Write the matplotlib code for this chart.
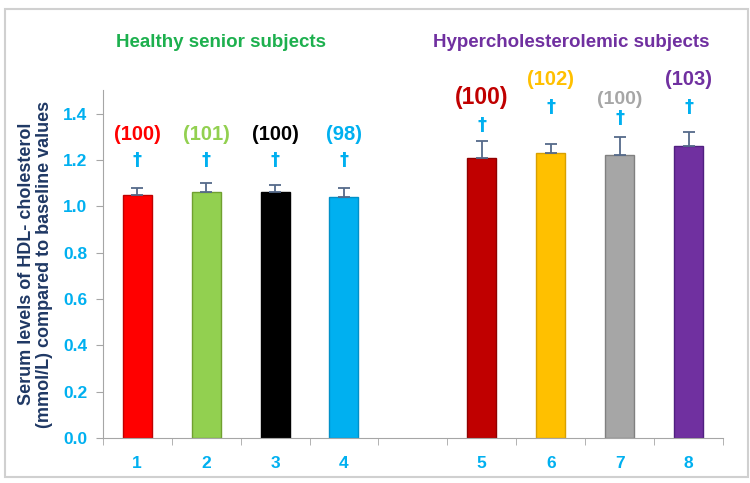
import matplotlib
matplotlib.use("Agg")
import matplotlib.pyplot as plt
from matplotlib.patches import Rectangle

# data
labels   = ["1", "2", "3", "4", "5", "6", "7", "8"]
means    = [1.05, 1.06, 1.06, 1.04, 1.21, 1.23, 1.22, 1.26]
errs     = [0.03, 0.04, 0.03, 0.04, 0.07, 0.04, 0.08, 0.06]
pct      = ["(100)", "(101)", "(100)", "(98)", "(100)", "(102)", "(100)", "(103)"]
colors   = ["#FF0000", "#92D050", "#000000", "#00B0F0",
            "#C00000", "#FFC000", "#A6A6A6", "#7030A0"]
# annotation heights (dagger, percentage label) in data units
dag_y    = [1.20, 1.20, 1.20, 1.20, 1.35, 1.43, 1.38, 1.43]
pct_y    = [1.31, 1.31, 1.31, 1.31, 1.47, 1.545, 1.46, 1.545]
pct_fs   = [14.5, 14.5, 14.5, 14.5, 16.5, 14.5, 14, 14.5]

BLUE, NAVY, GREEN, PURPLE = "#00B0F0", "#1F3864", "#1DB04E", "#7030A0"

xpos = [0, 1, 2, 3, 5, 6, 7, 8]   # slot 4 left empty between the groups

fig = plt.figure(figsize=(7.5, 4.83), dpi=100)
ax = fig.add_axes([0.137, 0.093, 0.827, 0.72])

edges = ["#C00000", "#70A030", "#000000", "#0090C8",
         "#900000", "#D8A000", "#808080", "#502080"]
ax.bar(xpos, means, width=0.42, color=colors, edgecolor=edges, linewidth=1, zorder=2)
ax.errorbar(xpos, means, yerr=[[0] * len(errs), errs], fmt="none",
            ecolor="#556A8A", elinewidth=1.3, capsize=4, capthick=1.3, zorder=3)

for x, dy, py, t, c, fs in zip(xpos, dag_y, pct_y, pct, colors, pct_fs):
    ax.text(x, dy, "\u2020", ha="center", va="center", color=BLUE,
            fontsize=13, fontweight="bold")
    ax.text(x, py, t, ha="center", va="center", color=c,
            fontsize=fs, fontweight="bold", family="Liberation Sans")

ax.set_xlim(-0.5, 8.5)
ax.set_ylim(0, 1.5)
ax.set_yticks([0, 0.2, 0.4, 0.6, 0.8, 1.0, 1.2, 1.4])
ax.set_yticklabels([f"{v:.1f}" for v in ax.get_yticks()])
ax.set_xticks(xpos)
ax.set_xticklabels(labels)
ax.set_xticks([i - 0.5 for i in range(10)], minor=True)
ax.tick_params(axis="x", which="major", length=0, pad=13)
ax.tick_params(axis="x", which="minor", length=5, color="#A6A6A6", direction="out")
ax.tick_params(axis="y", length=5, color="#A6A6A6", pad=6)
for lab in ax.get_xticklabels() + ax.get_yticklabels():
    lab.set_color(BLUE)
    lab.set_fontweight("bold")
    lab.set_fontsize(12.5)
    lab.set_family("Liberation Sans")

for s in ["top", "right"]:
    ax.spines[s].set_visible(False)
for s in ["left", "bottom"]:
    ax.spines[s].set_color("#A6A6A6")

ax.set_ylabel("Serum levels of HDL- cholesterol\n(mmol/L) compared to baseline values",
              color=NAVY, fontsize=13, fontweight="bold", family="Liberation Sans",
              labelpad=7, linespacing=1.1)

fig.text(0.295, 0.912, "Healthy senior subjects", color=GREEN, fontsize=13.5,
         fontweight="bold", ha="center", va="center", family="Liberation Sans")
fig.text(0.762, 0.912, "Hypercholesterolemic subjects", color=PURPLE, fontsize=13.5,
         fontweight="bold", ha="center", va="center", family="Liberation Sans")

fig.patches.append(Rectangle((0.007, 0.012), 0.99, 0.97, transform=fig.transFigure,
                             fill=False, edgecolor="#D0D0D0", linewidth=1.5))

fig.savefig("out.png", dpi=100)
